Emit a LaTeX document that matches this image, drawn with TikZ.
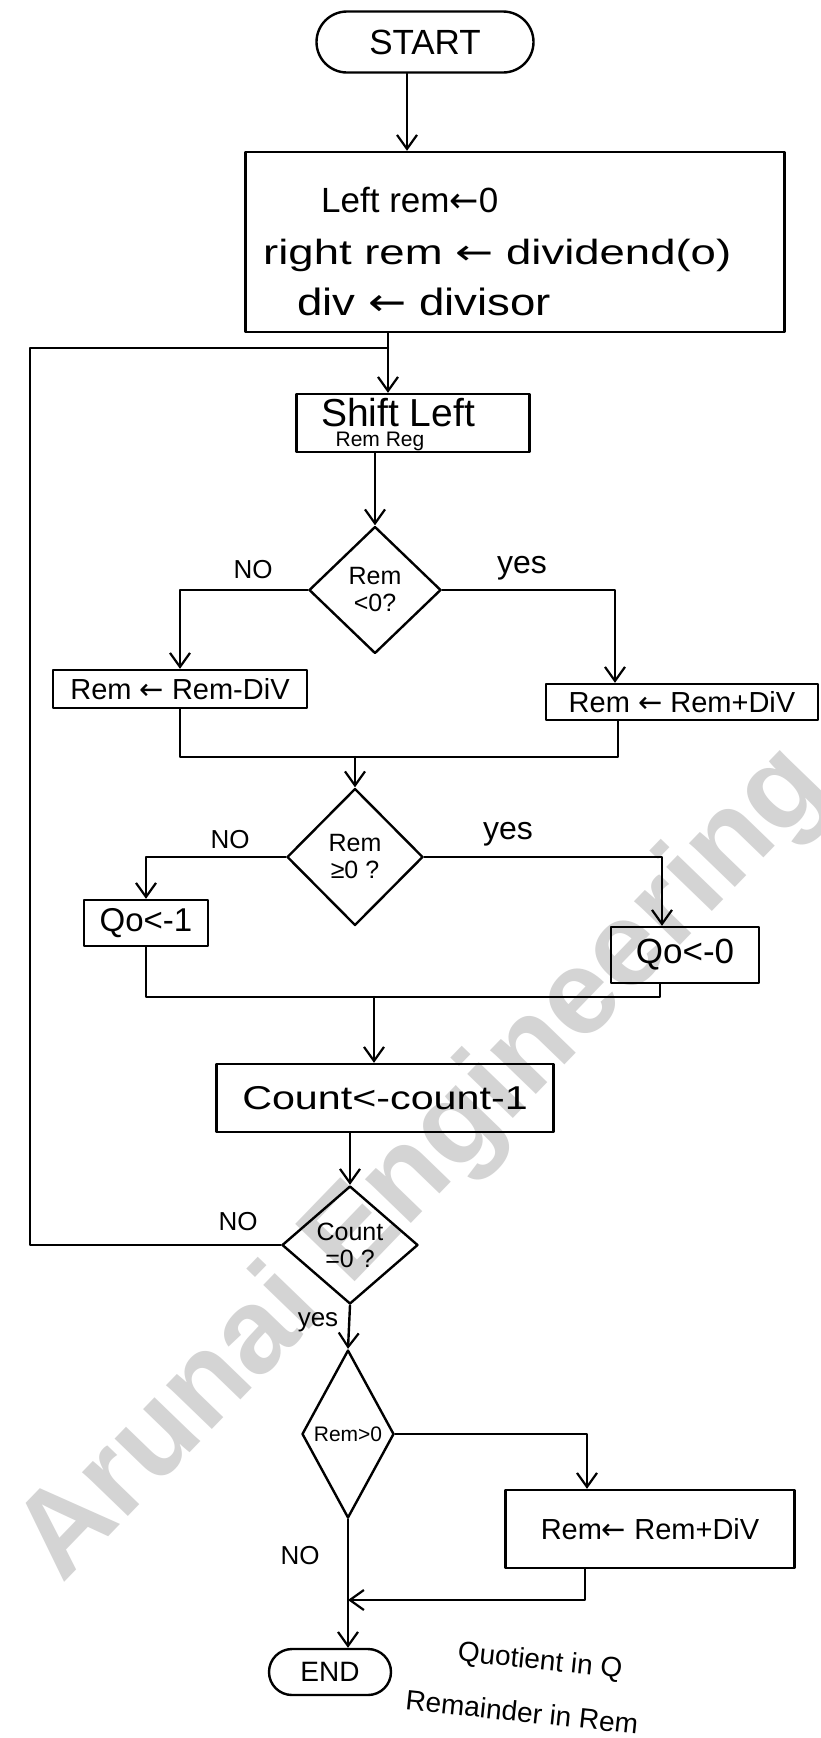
\documentclass[tikz,border=0pt]{standalone}
\usepackage{fontspec}
\setmainfont{Liberation Sans}
\newfontfamily\dejavu{DejaVu Sans}
\newcommand{\lar}{{\dejavu ←}}
\usetikzlibrary{shapes.geometric,shapes.misc,arrows.meta}
\tikzset{
  ln/.style={line width=2.4pt, line join=round, line cap=round},
  arr/.style={ln, -{Straight Barb[length=14pt,width=20pt,line width=2.2pt]}},
  box/.style={ln, draw, rectangle, inner sep=0pt, font=\fontsize{29}{32}\selectfont},
  term/.style={ln, draw, rounded rectangle, inner sep=0pt, font=\fontsize{35}{38}\selectfont},
  dia/.style={ln, draw, diamond, inner sep=0pt, align=center, font=\fontsize{25}{27}\selectfont},
  lbl/.style={font=\fontsize{26}{28}\selectfont, inner sep=0pt},
  txt/.style={font=\fontsize{33}{36}\selectfont, inner sep=0pt, anchor=west}
}
\begin{document}
\begin{tikzpicture}[x=1pt,y=-1pt]
\useasboundingbox (0,0) rectangle (821,1738);
\fill[white] (0,0) rectangle (821,1738);
% watermark
\node[rotate=46, text=black!17, font=\fontsize{120}{120}\selectfont\bfseries, inner sep=0pt] (wm) at (425,1165) {Arunai Engineering};
% nodes
\node[term, minimum width=217, minimum height=61] (start) at (425,42) {START};
\node[box, minimum width=539, minimum height=180] (init) at (515,242) {};
\node[txt, font=\fontsize{35}{38}\selectfont] (t1) at (321,200) {Left rem\lar0};
\node[txt, font=\fontsize{35}{38}\selectfont] (t2) at (263,255) {\scalebox{1.3}[1]{right rem \lar\ dividend(o)}};
\node[txt, font=\fontsize{38}{40}\selectfont] (t3) at (297,302) {\scalebox{1.2}[1]{div \lar\ divisor}};
\node[box, minimum width=233, minimum height=58] (shift) at (413,423) {};
\node[inner sep=0pt, font=\fontsize{39}{40}\selectfont] (t4) at (398,413) {Shift Left};
\node[inner sep=0pt, font=\fontsize{21}{22}\selectfont] (t5) at (380,441) {Rem Reg};
\node[dia, minimum width=132, minimum height=127] (d1) at (375,590) {Rem\\<0?};
\node[box, minimum width=254, minimum height=38] (b1) at (180,689) {Rem \lar\ Rem-DiV};
\node[box, minimum width=272, minimum height=36] (b2) at (682,702) {Rem \lar\ Rem+DiV};
\node[dia, minimum width=136, minimum height=137] (d2) at (355,857) {Rem\\≥0 ?};
\node[box, minimum width=124, minimum height=46, font=\fontsize{33}{35}\selectfont] (q1) at (146,923) {Qo<-1};
\node[box, minimum width=148, minimum height=56, font=\fontsize{35}{37}\selectfont] (q0) at (685,955) {Qo<-0};
\node[box, minimum width=337, minimum height=68, font=\fontsize{33}{35}\selectfont] (cnt) at (385,1098) {\scalebox{1.25}[1]{Count<-count-1}};
\node[dia, minimum width=136, minimum height=118] (d3) at (350,1245) {Count\\=0 ?};
\node[dia, minimum width=92, minimum height=168, font=\fontsize{21}{22}\selectfont] (d4) at (348,1434) {Rem>0};
\node[box, minimum width=289, minimum height=78] (b3) at (650,1529) {Rem\lar\ Rem+DiV};
\node[term, minimum width=122, minimum height=46, font=\fontsize{28}{30}\selectfont] (end) at (330,1672) {END};
\node[lbl, rotate=-6, font=\fontsize{28}{30}\selectfont] (n1) at (540,1662) {Quotient in Q};
\node[lbl, rotate=-6, font=\fontsize{28}{30}\selectfont] (n2) at (522,1712) {Remainder in Rem};
% labels
\node[lbl] (l1) at (253,570) {NO};
\node[lbl, font=\fontsize{32}{34}\selectfont] (l2) at (522,568) {yes};
\node[lbl] (l3) at (230,840) {NO};
\node[lbl, font=\fontsize{32}{34}\selectfont] (l4) at (508,834) {yes};
\node[lbl] (l5) at (238,1222) {NO};
\node[lbl] (l6) at (318,1322) {yes};
\node[lbl] (l7) at (300,1556) {NO};
% coordinates
\coordinate (j1) at (388,348);
\coordinate (lt) at (30,348);
\coordinate (lb) at (30,1245);
\coordinate (m1) at (355,757);
\coordinate (m2) at (374,997);
\coordinate (jn) at (348,1600);
% connectors
\draw[arr] ([xshift=-18]start.south) -- ([xshift=-18]start.south |- init.north);
\draw[ln] (init.south -| j1) -- (j1);
\draw[arr] (j1) -- (j1 |- shift.north);
\draw[ln] (d3.west) -- (lb) -- (lt) -- (j1);
\draw[arr] (d1.north |- shift.south) -- (d1.north);
\draw[arr] (d1.west) -| (b1.north);
\draw[arr] (d1.east) -| ([xshift=-67]b2.north);
\draw[ln] (b1.south) |- (m1);
\draw[ln] ([xshift=-64]b2.south) |- (m1);
\draw[arr] (m1) -- (d2.north);
\draw[arr] (d2.west) -| (q1.north);
\draw[arr] (d2.east) -| ([xshift=-23]q0.north);
\draw[ln] (q1.south) |- (m2);
\draw[ln] ([xshift=-25]q0.south) |- (m2);
\draw[arr] (m2) -- (m2 |- cnt.north);
\draw[arr] (d3.north |- cnt.south) -- (d3.north);
\draw[arr] (d3.south) -- (d4.north);
\draw[arr] (d4.east) -| ([xshift=-63]b3.north);
\draw[arr] (d4.south) -- (d4.south |- end.north);
\draw[arr] ([xshift=-65]b3.south) |- (jn);
\end{tikzpicture}
\end{document}
